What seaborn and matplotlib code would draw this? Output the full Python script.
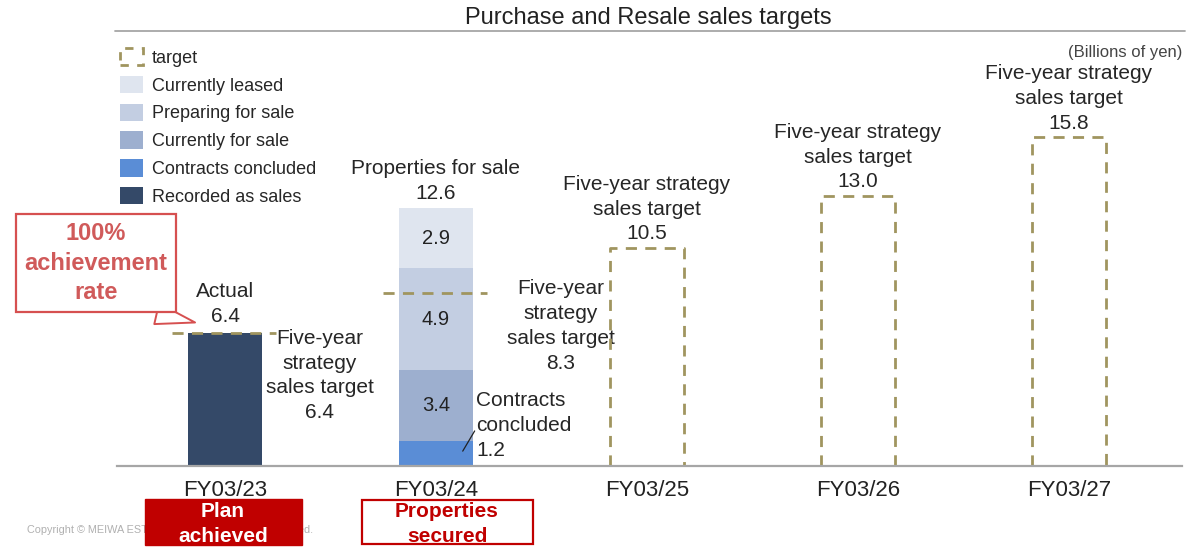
import matplotlib
matplotlib.use("Agg")
import matplotlib.pyplot as plt
import seaborn as sns
from matplotlib.patches import Patch, Rectangle
from matplotlib.lines import Line2D

categories = ["FY03/23", "FY03/24", "FY03/25", "FY03/26", "FY03/27"]
recorded_as_sales = [6.4, 0, 0, 0, 0]
contracts_concluded = [0, 1.2, 0, 0, 0]
currently_for_sale = [0, 3.4, 0, 0, 0]
preparing_for_sale = [0, 4.9, 0, 0, 0]
currently_leased = [0, 2.9, 0, 0, 0]
sales_targets = [6.4, 8.3, 10.5, 13.0, 15.8]
properties_for_sale_total = 12.6
actual_total = 6.4

segment_names = ["Recorded as sales", "Contracts concluded", "Currently for sale",
                 "Preparing for sale", "Currently leased"]
segment_values = [recorded_as_sales, contracts_concluded, currently_for_sale,
                  preparing_for_sale, currently_leased]
segment_colors = ["#344968", "#5a8dd6", "#9dafcf", "#c3cee2", "#dfe5ef"]
target_color = "#a0955f"
red = "#c00000"

sns.set_theme(style="white")
plt.rcParams["font.family"] = ["Liberation Sans", "DejaVu Sans"]

W, H = 1187, 548
fig = plt.figure(figsize=(W / 100, H / 100), dpi=100)
ax = fig.add_axes([117 / W, (H - 466) / H, (1182 - 117) / W, (466 - 40) / H])

bar_w = 0.35
bottom = [0.0] * len(categories)
for name, vals, col in zip(segment_names, segment_values, segment_colors):
    sns.barplot(x=categories, y=vals, bottom=bottom, color=col, width=bar_w, saturation=1,
                linewidth=0, errorbar=None, ax=ax, zorder=2)
    bottom = [b + v for b, v in zip(bottom, vals)]

# segment value labels inside the stacked bar
cum = 0.0
for vals in segment_values[2:]:
    ax.text(1, cum + contracts_concluded[1] + vals[1] / 2, f"{vals[1]:.1f}", ha="center",
            va="center", fontsize=14.5, color="#222222", zorder=5)
    cum += vals[1]

# target boxes (open at the bottom) for future years
dash = (0, (4, 3))
ls = 1.39
fs = 15
for i, t in enumerate(sales_targets):
    if i < 2:
        ax.plot([i - 0.25, i + 0.24], [t, t], color=target_color, lw=2, linestyle=dash, zorder=4)
    else:
        ax.plot([i - bar_w / 2, i - bar_w / 2, i + bar_w / 2, i + bar_w / 2], [0, t, t, 0],
                color=target_color, lw=2, linestyle=dash, zorder=4)
        ax.annotate(f"Five-year strategy\nsales target\n{t:.1f}", xy=(i, t), xytext=(0, 3),
                    textcoords="offset points", ha="center", va="bottom", fontsize=fs,
                    linespacing=ls)

ax.annotate(f"Actual\n{actual_total:.1f}", xy=(0, actual_total), xytext=(0, 5),
            textcoords="offset points", ha="center", va="bottom", fontsize=fs, linespacing=ls)
ax.text(0.45, sales_targets[0] + 0.2, f"Five-year\nstrategy\nsales target\n{sales_targets[0]:.1f}",
        ha="center", va="top", fontsize=fs, linespacing=ls)
ax.annotate(f"Properties for sale\n{properties_for_sale_total:.1f}", xy=(1, bottom[1]), xytext=(0, 4),
            textcoords="offset points", ha="center", va="bottom", fontsize=fs, linespacing=ls)
ax.text(1.59, sales_targets[1] + 0.68, f"Five-year\nstrategy\nsales target\n{sales_targets[1]:.1f}",
        ha="center", va="top", fontsize=fs, linespacing=ls)
ax.text(1.19, 3.6, f"Contracts\nconcluded\n{contracts_concluded[1]:.1f}", ha="left", va="top",
        fontsize=fs, linespacing=ls)
ax.annotate("", xy=(1.12, 0.6), xytext=(1.19, 1.8),
            arrowprops=dict(arrowstyle="-", color="#222222", lw=0.9))

# callout
ax.annotate("100%\nachievement\nrate", xy=(-0.142, 6.9), xytext=(96 / W, 1 - 263 / H),
            textcoords="figure fraction", ha="center", va="center", fontsize=17,
            fontweight="bold", color="#d05a5a", linespacing=1.35, annotation_clip=False,
            bbox=dict(boxstyle="square,pad=0.36", fc="white", ec="#d65050", lw=1.6),
            arrowprops=dict(arrowstyle="wedge,tail_width=0.9,shrink_factor=0.5", fc="white",
                            ec="#d65050", lw=1.4, relpos=(0.62, 0.0), shrinkB=0))

ax.set_xlim(-0.512, 4.536)
ax.set_ylim(0, 20.48)
ax.set_yticks([])
ax.set_xlabel("")
ax.set_ylabel("")
ax.tick_params(axis="x", length=0, pad=10, labelsize=16, colors="#222222")
for s in ["top", "left", "right"]:
    ax.spines[s].set_visible(False)
ax.spines["bottom"].set_color("#a6a6a6")
ax.spines["bottom"].set_linewidth(1.6)
ax.spines["bottom"].set_zorder(6)

# legend
handles = [Patch(facecolor="none", edgecolor=target_color, linestyle=(0, (3, 3)), lw=2, label="target")]
for name, col in zip(segment_names[::-1], segment_colors[::-1]):
    handles.append(Patch(facecolor=col, edgecolor="none", label=name))
ax.legend(handles=handles, loc="upper left", bbox_to_anchor=(120 / W, 1 - 48 / H),
          bbox_transform=fig.transFigure, frameon=False, fontsize=13, handlelength=1.3,
          handleheight=1.1, labelspacing=0.5, handletextpad=0.45, borderpad=0, borderaxespad=0)

# header
fig.text(648 / W, 1 - 18 / H, "Purchase and Resale sales targets", ha="center", va="center",
         fontsize=17, color="#222222")
fig.add_artist(Line2D([115 / W, 1185 / W], [1 - 31 / H, 1 - 31 / H], color="#a6a6a6", lw=1.3))
fig.text(1182 / W, 1 - 52 / H, "(Billions of yen)", ha="right", va="center", fontsize=12,
         color="#444444")

# footer
fig.text(27 / W, 1 - 530 / H, "Copyright \u00a9 MEIWA ESTATE Co., Ltd. All Rights Reserved.",
         ha="left", va="center", fontsize=7.85, color="#b0b0b0", zorder=1)
fig.add_artist(Rectangle((145 / W, 1 - 545 / H), (302 - 145) / W, 46 / H, transform=fig.transFigure,
                         facecolor=red, edgecolor=red, zorder=3))
fig.text(223 / W, 1 - 524 / H, "Plan\nachieved", ha="center", va="center", fontsize=15,
         fontweight="bold", color="white", linespacing=1.35, zorder=4)
fig.add_artist(Rectangle((362 / W, 1 - 544 / H), (533 - 362) / W, 44 / H, transform=fig.transFigure,
                         facecolor="white", edgecolor=red, lw=1.6, zorder=3))
fig.text(447 / W, 1 - 524 / H, "Properties\nsecured", ha="center", va="center", fontsize=15,
         fontweight="bold", color=red, linespacing=1.35, zorder=4)

fig.savefig("out.png", dpi=100)
